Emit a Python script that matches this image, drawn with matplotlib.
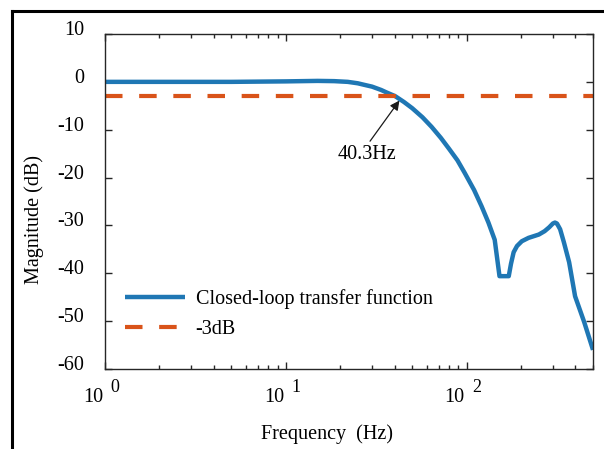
import numpy as np
import matplotlib
matplotlib.use("Agg")
import matplotlib.pyplot as plt
from matplotlib.lines import Line2D
import matplotlib.transforms as mtransforms

plt.rcParams['font.family'] = ['Liberation Serif', 'DejaVu Serif']

# closed-loop magnitude
freq_hz = [1, 2, 5, 10, 15, 18.5, 22, 25, 27, 30, 33.7, 36, 40.3, 45, 50, 57, 64, 72,
           80, 89, 97.5, 110, 121, 132, 143, 152, 171, 176, 182, 190, 202, 220, 251,
           270, 286, 300, 308, 316, 329, 345, 369, 398, 447, 500]
mag_db = [0, 0, 0, 0.1, 0.2, 0.15, 0, -0.3, -0.6, -1.0, -1.7, -2.2, -3, -4.2, -5.5,
          -7.4, -9.4, -11.7, -14, -16.4, -19, -22.6, -26, -29.4, -33, -40.6, -40.6,
          -38, -35.6, -34.3, -33.3, -32.6, -31.9, -31.2, -30.4, -29.6, -29.4, -29.6,
          -30.8, -33.5, -37.7, -44.8, -50.2, -56]
cut_db = -3

yticks = [10, 0, -10, -20, -30, -40, -50, -60]
xtick_vals = [1, 10, 100]
xtick_exps = ['0', '1', '2']

blue = '#1f77b4'
orange = '#D95319'
fs = 14.5

fig = plt.figure(figsize=(6.04, 4.49), dpi=100)
W, H = 604, 449
ax = fig.add_axes([105 / W, 1 - 369 / H, 488 / W, 335 / H])

ax.semilogx(freq_hz, mag_db, color=blue, lw=3.2, label='Closed-loop transfer function',
            solid_capstyle='butt', solid_joinstyle='round')
ax.axhline(cut_db, color=orange, lw=3, dashes=(4.2, 4), label='-3dB')

ax.set_xlim(1, 500)
ax.set_ylim(-60, 10)
ax.set_yticks(yticks)
ax.set_yticklabels([str(v) for v in yticks])
ax.set_xticks(xtick_vals)
ax.set_xticklabels([])

for s in ax.spines.values():
    s.set_linewidth(1.0)
    s.set_color('#262626')
ax.tick_params(which='both', direction='in', top=True, right=True, color='#262626', width=1.0)
ax.tick_params(which='major', length=5, labelsize=fs, pad=15)
ax.tick_params(which='minor', length=3)

# y tick labels sit a bit higher than the ticks
off = mtransforms.ScaledTranslation(0, 6 / 100, fig.dpi_scale_trans)
for lab in ax.get_yticklabels():
    lab.set_transform(lab.get_transform() + off)

# x tick labels: "10" with a separated exponent
for v, e in zip(xtick_vals, xtick_exps):
    ax.annotate('10', xy=(v, 0), xycoords=('data', 'axes fraction'), xytext=(-12, -29),
                textcoords='offset pixels', ha='center', va='center', fontsize=fs)
    ax.annotate(e, xy=(v, 0), xycoords=('data', 'axes fraction'), xytext=(10, -19),
                textcoords='offset pixels', ha='center', va='center', fontsize=13)

ax.set_xlabel('Frequency  (Hz)', fontsize=fs)
ax.xaxis.set_label_coords(0.455, -0.165)
ax.set_ylabel('Magnitude (dB)', fontsize=fs)
ax.yaxis.set_label_coords(-0.125, 0.445)

ax.annotate('40.3Hz', xy=(42.5, -3.9), xytext=(28.2, -15.2), ha='center', va='center',
            fontsize=fs,
            arrowprops=dict(arrowstyle='-|>', color='#1a1a1a', lw=0.9, mutation_scale=14,
                            relpos=(0.5, 1.0), shrinkA=1, shrinkB=0))

ax.legend(loc='lower left', bbox_to_anchor=(0.004, 0.035), frameon=False, fontsize=fs,
          handlelength=3.0, handletextpad=0.5, labelspacing=0.55)

# figure frame (top and left edges visible)
fig.add_artist(Line2D([12 / W, 12 / W], [0, 1 - 11 / H], transform=fig.transFigure,
                      color='black', lw=2.2))
fig.add_artist(Line2D([12 / W, 1], [1 - 11 / H, 1 - 11 / H], transform=fig.transFigure,
                      color='black', lw=2.2, solid_capstyle='projecting'))

fig.savefig('out.png', dpi=100)
